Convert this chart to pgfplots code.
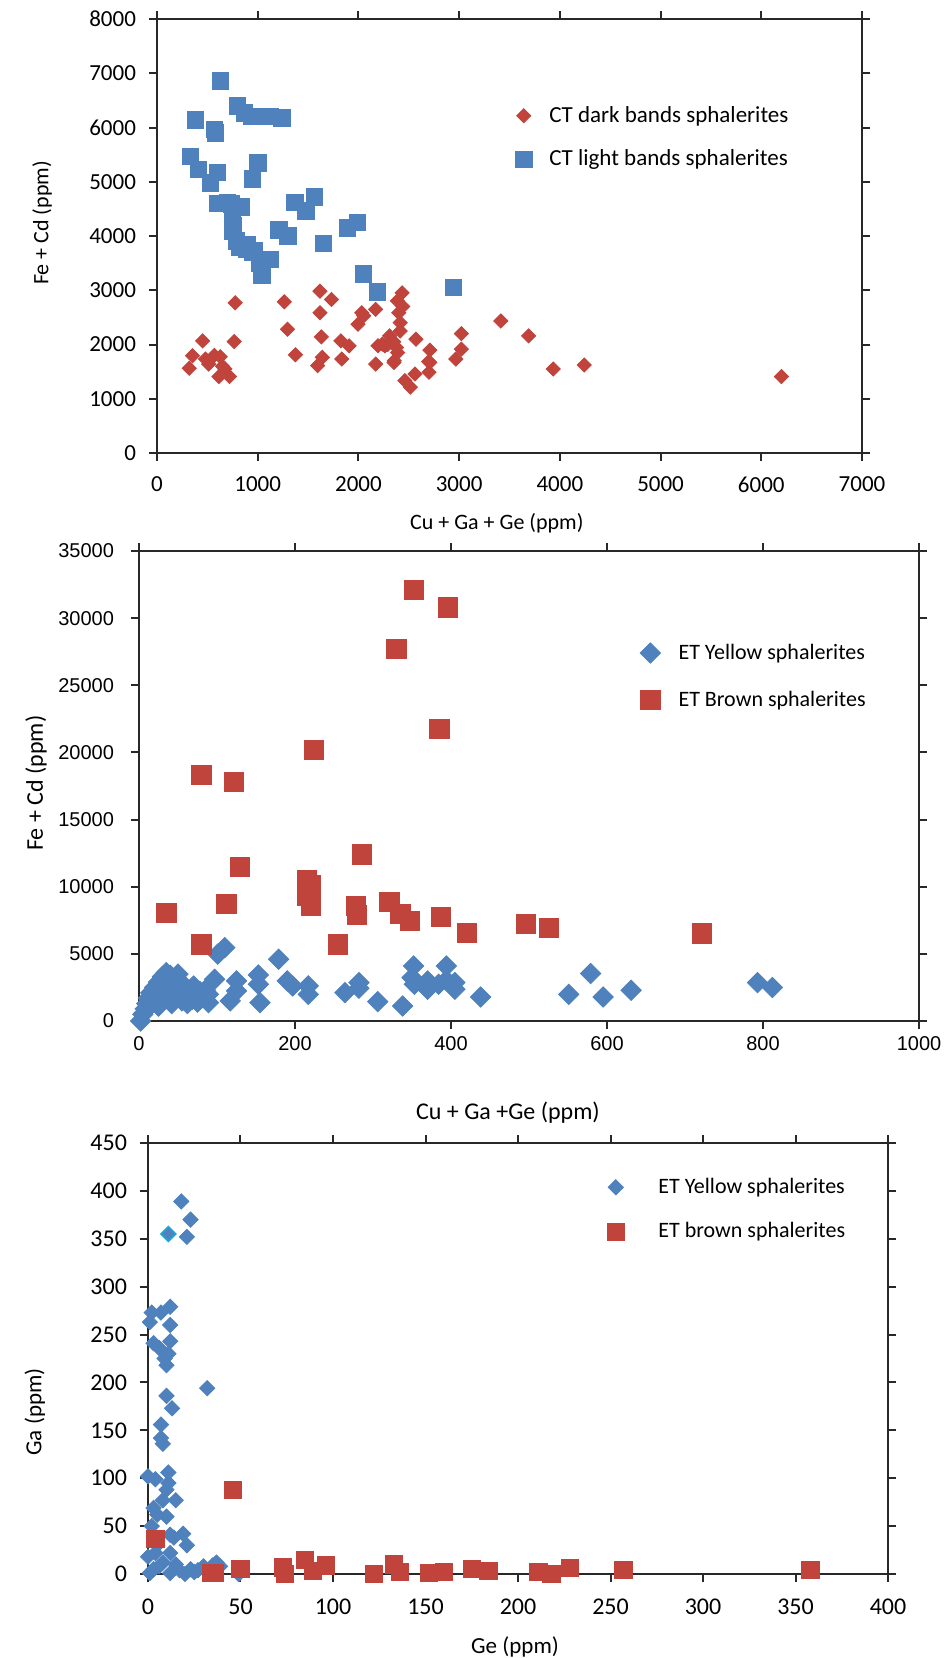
\documentclass[border=0pt]{standalone}
\usepackage{pgfplots}
\pgfplotsset{compat=1.18}
\usepackage{fontspec}
\setmainfont{Carlito}
\newfontfamily\arialf{Liberation Sans}
\definecolor{myred}{RGB}{192,68,60}
\definecolor{myblue}{RGB}{79,129,189}
\definecolor{mycyan}{RGB}{30,165,215}
\definecolor{axcol}{RGB}{40,40,40}

\pgfplotsset{
  myaxis/.style={
    scale only axis,
    clip=false,
    axis line style={line width=1pt, axcol},
    tick style={line width=1pt, axcol},
    major tick length=4pt,
    tick align=outside,
    scaled ticks=false,
    /pgf/number format/1000 sep={},
    /pgf/number format/assume math mode=true,
    legend cell align=left,
    legend style={draw=none, fill=none, inner sep=0pt, anchor=west},
    legend image code/.code={\draw[mark repeat=2,mark phase=2,##1] plot coordinates {(0pt,0pt)(5pt,0pt)(10pt,0pt)};},
  },
}

\begin{document}
\begin{tikzpicture}
\path[use as bounding box] (0,0) rectangle (474.5pt,-829pt);

% ---------------- TOP ----------------
\begin{axis}[myaxis,
  at={(78.5pt,-226.5pt)}, anchor=south west,
  width=352.5pt, height=217pt,
  xmin=0, xmax=7000, ymin=0, ymax=8000,
  xtick={0,1000,...,7000}, ytick={0,1000,...,8000},
  ticklabel style={font=\fontsize{11.5}{13}\selectfont},
  xticklabel style={yshift=-4.5pt},
  yticklabel style={xshift=-3pt},
  xlabel={Cu + Ga + Ge (ppm)}, ylabel={Fe + Cd (ppm)},
  xlabel style={at={(axis description cs:0.482,-0.161)}, anchor=center, font=\fontsize{11}{13}\selectfont},
  ylabel style={at={(axis description cs:-0.163,0.53)}, anchor=center, font=\fontsize{11}{13}\selectfont},
  legend style={at={(axis description cs:0.508,0.727)}, font=\fontsize{11.5}{13}\selectfont, row sep=8.3pt,
    /tikz/every odd column/.append style={column sep=6.7pt}},
]
\addplot[only marks, mark=square*, mark size=2.5pt, mark options={rotate=45, fill=myred, draw=myred}] coordinates {
(320,1561) (352,1793) (453,2067) (481,1732) (513,1640) (628,1775) (615,1409)
(720,1409) (674,1549) (766,2055) (776,2769) (1264,2787) (1296,2281) (1374,1811)
(1595,1610) (1641,1763) (1632,2141) (1618,2586) (1618,2983) (1733,2830) (1825,2067)
(1908,1976) (1835,1732) (1996,2373) (2033,2586) (2171,2647) (2171,1640) (2194,1976)
(2263,1976) (2309,2159) (2355,1701) (2378,1945) (2401,2586) (2415,2403) (2415,2250)
(2433,2952) (2461,1335) (2516,1213) (2562,1457) (2571,2098) (2709,1897) (2709,1671)
(2700,1488) (2967,1732) (3022,2202) (3022,1915) (3414,2434) (3690,2159) (3934,1549)
(4243,1622) (6200,1409) (2290,2000) (2350,2050) (2390,1850) (2440,2700) (2053,2530)
(2387,2805) (2237,2007) (2353,1669) (2697,1685) (570,1800) (650,1600)
};
\addlegendentry{CT dark bands sphalerites}
\addplot[only marks, mark=square*, mark size=4.1pt, mark options={fill=myblue, draw=myblue}] coordinates {
(630,6860) (380,6140) (580,5900) (570,5960) (800,6400) (870,6270) (940,6210)
(1070,6210) (1120,6200) (1240,6180) (330,5470) (410,5230) (600,5170) (530,4980)
(1000,5350) (950,5050) (600,4600) (740,4590) (840,4540) (750,4340) (750,4090)
(790,3910) (900,3850) (890,3760) (970,3730) (1120,3570) (1040,3280) (1210,4110)
(1300,4000) (1370,4620) (1480,4460) (1560,4720) (1650,3860) (1890,4150) (1990,4250)
(2050,3300) (2190,2970) (2940,3050) (700,4620) (760,4200) (820,3800) (950,3700)
(1020,3500)
};
\addlegendentry{CT light bands sphalerites}
\end{axis}

% ---------------- MIDDLE ----------------
\begin{axis}[myaxis,
  at={(69.5pt,-510.5pt)}, anchor=south west,
  width=390pt, height=235pt,
  xmin=0, xmax=1000, ymin=0, ymax=35000,
  xtick={0,200,...,1000}, ytick={0,5000,...,35000},
  ticklabel style={font=\arialf\fontsize{10}{12}\selectfont},
  yticklabel style={xshift=-5pt},
  xlabel={Cu + Ga +Ge (ppm)}, ylabel={Fe + Cd (ppm)},
  xlabel style={at={(axis description cs:0.473,-0.196)}, anchor=center, font=\fontsize{12}{14}\selectfont},
  ylabel style={at={(axis description cs:-0.132,0.506)}, anchor=center, font=\fontsize{12}{14}\selectfont},
  legend style={at={(axis description cs:0.642,0.733)}, font=\fontsize{11}{13}\selectfont, row sep=10.3pt,
    /tikz/every odd column/.append style={column sep=7pt}},
]
\addplot[only marks, mark=square*, mark size=3.6pt, mark options={rotate=45, fill=myblue, draw=myblue}] coordinates {
(2,0) (5,500) (8,900) (10,1300) (12,1700) (15,1200) (15,2100) (18,1500) (20,2500)
(22,1900) (25,2900) (25,1100) (28,2300) (30,3300) (32,1600) (35,3600) (35,2700)
(38,2000) (40,3400) (42,1300) (45,3000) (45,2400) (48,1800) (50,3500) (52,2200)
(55,1500) (55,2800) (58,1900) (60,2500) (62,1300) (65,2100) (68,1600) (70,2600)
(72,1900) (75,1400) (78,2200) (80,1700) (85,2300)
(89,1368) (89,1990) (97,3110) (101,4980) (110,5470) (117,1493) (125,2985) (125,2239)
(153,3433) (153,2736) (155,1368) (179,4600) (190,2985) (197,2612) (217,1990) (217,2612)
(264,2114) (282,2861) (282,2438) (306,1440) (338,1120) (350,3234) (352,4100) (353,2736)
(370,2985) (370,2363) (384,2736) (394,4100) (394,3035) (405,2861) (405,2363) (438,1790)
(551,1990) (579,3530) (595,1790) (631,2290) (793,2860) (812,2490)
};
\addlegendentry{ET Yellow sphalerites}
\addplot[only marks, mark=square*, mark size=4.8pt, mark options={fill=myred, draw=myred}] coordinates {
(35,8050) (80,5700) (80,18300) (112,8700) (122,17800) (129,11450) (215,10500)
(220,10100) (215,9350) (220,8600) (224,20200) (255,5700) (278,8550) (279,7900)
(286,12400) (321,8870) (330,27700) (335,8000) (347,7450) (352,32100) (385,21750)
(387,7750) (396,30800) (420,6560) (496,7260) (526,6920) (722,6520)
};
\addlegendentry{ET Brown sphalerites}
\end{axis}

% ---------------- BOTTOM ----------------
\begin{axis}[myaxis,
  at={(74pt,-787pt)}, anchor=south west,
  width=370pt, height=215.5pt,
  xmin=0, xmax=400, ymin=0, ymax=450,
  xtick={0,50,...,400}, ytick={0,50,...,450},
  ticklabel style={font=\fontsize{12}{14}\selectfont},
  xticklabel style={yshift=-5pt},
  yticklabel style={xshift=-3pt},
  xlabel={Ge (ppm)}, ylabel={Ga (ppm)},
  xlabel style={at={(axis description cs:0.496,-0.169)}, anchor=center, font=\fontsize{11.5}{13}\selectfont},
  ylabel style={at={(axis description cs:-0.153,0.376)}, anchor=center, font=\fontsize{11.5}{13}\selectfont},
  legend style={at={(axis description cs:0.620,0.846)}, font=\fontsize{11}{13}\selectfont, row sep=9pt,
    /tikz/every odd column/.append style={column sep=15pt}},
]
\addplot[only marks, mark=square*, mark size=2.7pt, mark options={rotate=45, fill=myblue, draw=myblue}] coordinates {
(18,389) (23,370) (21,352)
(1,263) (2,273) (7,273) (12,279) (12,260) (3,241) (6,236) (9,225) (10,218) (12,243) (11,230)
(32,194) (10,186) (13,173) (7,156) (7,142) (8,136)
(0,102) (4,99) (11,106) (11,95) (15,77) (3,69) (5,62) (10,88) (8,77)
(19,42) (12,41) (21,30) (0,18) (4,22) (12,22) (6,8) (17,4) (20,0) (27,4) (35,9) (39,8) (1,1) (12,1) (49,0)
(2,50) (5,30) (8,12) (15,10) (25,2) (30,8) (10,60) (14,38) (3,5) (23,5) (33,2) (37,12)
};
\addlegendentry{ET Yellow sphalerites}
\addplot[only marks, mark=square*, mark size=4.3pt, mark options={fill=myred, draw=myred}] coordinates {
(4,37) (46,88) (34,1) (36,1) (50,5) (73,7) (74,0) (85,15) (89,3) (96,9) (122,0) (133,10)
(136,2) (152,1) (160,2) (175,5) (184,3) (211,2) (218,0) (228,6) (257,4) (358,4)
};
\addlegendentry{ET brown sphalerites}
\addplot[only marks, forget plot, mark=square*, mark size=2.6pt, mark options={rotate=45, fill=myblue, draw=mycyan, line width=0.8pt}] coordinates {(11,355)};
\end{axis}
\end{tikzpicture}
\end{document}
